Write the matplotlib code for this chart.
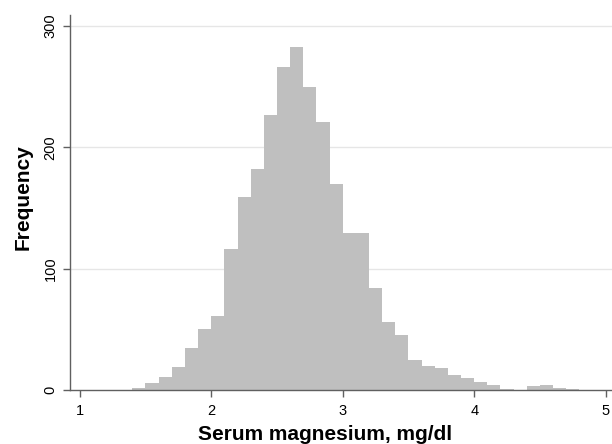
import matplotlib
matplotlib.use('Agg')
import matplotlib.pyplot as plt

# Histogram of serum magnesium, bins 0.1 mg/dl wide
bin_edges = [1.4, 1.5, 1.6, 1.7, 1.8, 1.9, 2.0, 2.1, 2.2, 2.3, 2.4, 2.5,
             2.6, 2.7, 2.8, 2.9, 3.0, 3.1, 3.2, 3.3, 3.4, 3.5, 3.6, 3.7,
             3.8, 3.9, 4.0, 4.1, 4.2, 4.3, 4.4, 4.5, 4.6, 4.7, 4.8]
counts = [2, 6, 11, 19, 35, 50, 61, 116, 159, 182, 227, 266,
          283, 250, 221, 170, 129, 129, 84, 56, 45, 25, 20, 18,
          12, 10, 7, 4, 1, 0, 3, 4, 2, 1]
x_ticks = [1, 2, 3, 4, 5]
y_ticks = [0, 100, 200, 300]

plt.rcParams['font.family'] = ['Liberation Sans', 'DejaVu Sans']

fig = plt.figure(figsize=(6.12, 4.44), dpi=100)
ax = fig.add_axes([70 / 612, 1 - 390 / 444, 542 / 612, 375 / 444])

ax.stairs(counts, bin_edges, fill=True, color='#bfbfbf', linewidth=0)

ax.set_xlim(0.926, 5.048)
ax.set_ylim(0, 309)
ax.set_xticks(x_ticks)
ax.set_yticks(y_ticks)

# light horizontal grid lines like Stata
for y in y_ticks[1:]:
    ax.axhline(y, color='#e6e6e6', linewidth=1.0, zorder=0)

for side in ['top', 'right']:
    ax.spines[side].set_visible(False)
for side in ['left', 'bottom']:
    ax.spines[side].set_color('#606060')
    ax.spines[side].set_linewidth(1.0)

ax.tick_params(axis='both', colors='#606060', length=5, width=1.0,
               labelsize=10.5, labelcolor='black')
ax.tick_params(axis='x', pad=5)
ax.tick_params(axis='y', pad=4, labelrotation=90)
for lab in ax.get_yticklabels():
    lab.set_va('center')

fig.text(23 / 612, 1 - 197 / 444, 'Frequency', rotation=90, ha='center',
         va='center', fontsize=15, fontweight='bold')
fig.text(325 / 612, 1 - 440 / 444, 'Serum magnesium, mg/dl', ha='center',
         va='baseline', fontsize=15, fontweight='bold')

fig.savefig('out.png', dpi=100)
